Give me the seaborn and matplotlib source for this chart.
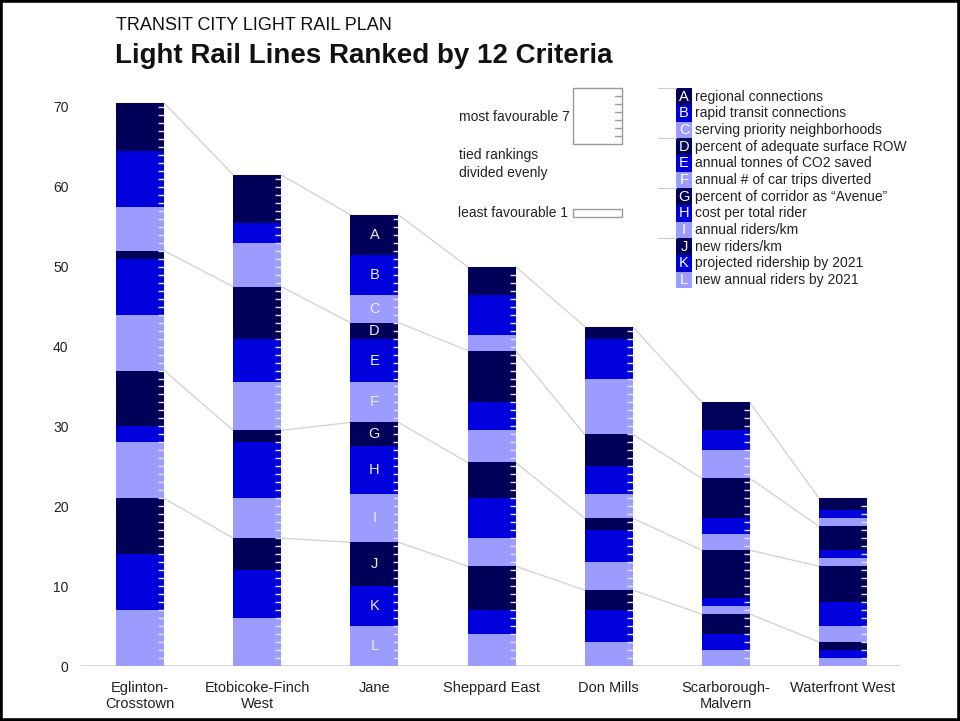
"""Transit City light rail lines ranked by 12 criteria — stacked rank chart."""
import matplotlib
matplotlib.use("Agg")
import matplotlib.pyplot as plt
from matplotlib.patches import Rectangle
import numpy as np
import seaborn as sns

# ── data ──────────────────────────────────────────────────────────────────────
LINES = ["Eglinton-\nCrosstown", "Etobicoke-Finch\nWest", "Jane", "Sheppard East",
         "Don Mills", "Scarborough-\nMalvern", "Waterfront West"]
CODES = list("ABCDEFGHIJKL")
CRITERIA = [
    "regional connections",
    "rapid transit connections",
    "serving priority neighborhoods",
    "percent of adequate surface ROW",
    "annual tonnes of CO2 saved",
    "annual # of car trips diverted",
    "percent of corridor as \u201cAvenue\u201d",
    "cost per total rider",
    "annual riders/km",
    "new riders/km",
    "projected ridership by 2021",
    "new annual riders by 2021",
]
# rank points (7 = most favourable, ties divided evenly), one per line
A = [6, 6, 5, 3.5, 1.5, 3.5, 1.5]
B = [7, 2.5, 5, 5, 5, 2.5, 1]
C = [5.5, 5.5, 3.5, 2, 7, 3.5, 1]
D = [1, 6.5, 2, 6.5, 4, 5, 3]
E = [7, 5.5, 5.5, 3.5, 3.5, 2, 1]
F = [7, 6, 5, 4, 3, 2, 1]
G = [7, 1.5, 3, 4.5, 1.5, 6, 4.5]
H = [2, 7, 6, 5, 4, 1, 3]
I = [7, 5, 6, 3.5, 3.5, 1, 2]
J = [7, 4, 5.5, 5.5, 2.5, 2.5, 1]
K = [7, 6, 5, 3, 4, 2, 1]
L = [7, 6, 5, 4, 3, 2, 1]
Y_TICKS = [0, 10, 20, 30, 40, 50, 60, 70]

DARK, MID, LIGHT = "#000058", "#0000dd", "#9c9cff"
COLORS = [DARK, MID, LIGHT] * 4          # A..L
TXT = "#222222"
W = 0.41                                 # bar width

sns.set_style("white")
plt.rcParams["font.family"] = ["Liberation Sans", "DejaVu Sans"]

fig = plt.figure(figsize=(9.6, 7.21), dpi=100)
FW, FH = 960, 721


def px(x, y):
    """pixel (from top-left) -> figure fraction"""
    return x / FW, 1 - y / FH


ax = fig.add_axes([81 / FW, 55 / FH, 820 / FW, 75 * 7.986 / FH])

# stack bottom (L) to top (A)
values = np.array([A, B, C, D, E, F, G, H, I, J, K, L], dtype=float)
bottom_up = values[::-1]
cum = np.cumsum(bottom_up, axis=0)          # cum[0] = L, cum[11] = total
cum_colors = COLORS[::-1]

# draw cumulative heights from the top layer down so each covers the rest
for lvl in range(11, -1, -1):
    sns.barplot(x=LINES, y=cum[lvl], color=cum_colors[lvl], saturation=1,
                width=W, errorbar=None, linewidth=0, ax=ax, zorder=2)

totals = cum[-1]
xs = np.arange(len(LINES))

# little scale ticks at each unit on the right edge of the bars
for i, tot in enumerate(totals):
    ks = np.arange(1, int(np.ceil(tot)))
    ax.hlines(ks, i + W / 2 - 0.05, i + W / 2, color="#e4e4f4",
              linewidth=1.0, zorder=3)

# connector lines at group boundaries (after J, G, D and A)
for lvl in (2, 5, 8, 11):
    for i in range(len(LINES) - 1):
        ax.plot([i + W / 2, i + 1 - W / 2], [cum[lvl][i], cum[lvl][i + 1]],
                color="#d4d4d4", linewidth=1.0, zorder=1)
    ax.hlines(cum[lvl], xs - W / 2, xs + W / 2, color="#d4d4d4",
              linewidth=0.8, zorder=1.5)

# letters on the Jane bar
j = LINES.index("Jane")
for lvl in range(12):
    mid = cum[lvl][j] - bottom_up[lvl][j] / 2
    ax.text(j, mid, CODES[::-1][lvl], ha="center", va="center",
            color="#eeeeff", fontsize=10.5, zorder=4)

ax.axhline(0, color="#d0d0d0", linewidth=1.2, zorder=0)
ax.set_xlim(-0.504, 6.495)
ax.set_ylim(0, 75)
ax.set_yticks(Y_TICKS)
ax.tick_params(axis="y", length=0, pad=9, labelsize=10, labelcolor=TXT)
ax.tick_params(axis="x", length=0, pad=11, labelsize=10.5, labelcolor=TXT)
ax.set_xlabel("")
ax.set_ylabel("")
sns.despine(ax=ax, left=True, bottom=True)
ax.set_facecolor("white")

# ── titles ────────────────────────────────────────────────────────────────────
fig.text(*px(116, 26), "TRANSIT CITY LIGHT RAIL PLAN", fontsize=13,
         color="#111111", va="center", ha="left")
fig.text(*px(115, 56), "Light Rail Lines Ranked by 12 Criteria", fontsize=20,
         fontweight="bold", color="#111111", va="center", ha="left")

# ── ranking scale key ─────────────────────────────────────────────────────────
fig.text(*px(570, 117), "most favourable 7", fontsize=10, color=TXT,
         ha="right", va="center")
fig.text(*px(459, 164), "tied rankings\ndivided evenly", fontsize=10,
         color=TXT, ha="left", va="center", linespacing=1.35)
fig.text(*px(568, 213), "least favourable 1", fontsize=10, color=TXT,
         ha="right", va="center")
fig.add_artist(Rectangle(px(573, 144), 49 / FW, 56 / FH, transform=fig.transFigure,
                         fill=False, edgecolor="#999999", linewidth=1.0))
fig.add_artist(Rectangle(px(573, 217), 49 / FW, 8 / FH, transform=fig.transFigure,
                         fill=False, edgecolor="#999999", linewidth=1.0))
for k in range(1, 7):
    y0 = px(0, 144 - 8 * k)[1]
    fig.add_artist(plt.Line2D([615 / FW, 622 / FW], [y0, y0],
                              transform=fig.transFigure, color="#999999",
                              linewidth=1.0))

# ── criteria key ──────────────────────────────────────────────────────────────
row_h = 16.67
for n, (code, label, col) in enumerate(zip(CODES, CRITERIA, COLORS)):
    top = 88.3 + n * row_h
    fig.add_artist(Rectangle(px(676, top + row_h), 16 / FW, row_h / FH,
                             transform=fig.transFigure, facecolor=col,
                             edgecolor="none"))
    fig.text(*px(684, top + row_h / 2), code, fontsize=10.5, color="white",
             ha="center", va="center")
    fig.text(*px(695, top + row_h / 2), label, fontsize=10, color=TXT,
             ha="left", va="center")
    if n % 3 == 0:
        fig.add_artist(plt.Line2D([658 / FW, 676 / FW], [px(0, top)[1]] * 2,
                                  transform=fig.transFigure, color="#cccccc",
                                  linewidth=0.8))

# frame round the whole picture
fig.add_artist(Rectangle((0, 0), 1, 1, transform=fig.transFigure, fill=False,
                         edgecolor="black", linewidth=4))

fig.savefig("out.png", dpi=100, facecolor="white")
plt.close(fig)
